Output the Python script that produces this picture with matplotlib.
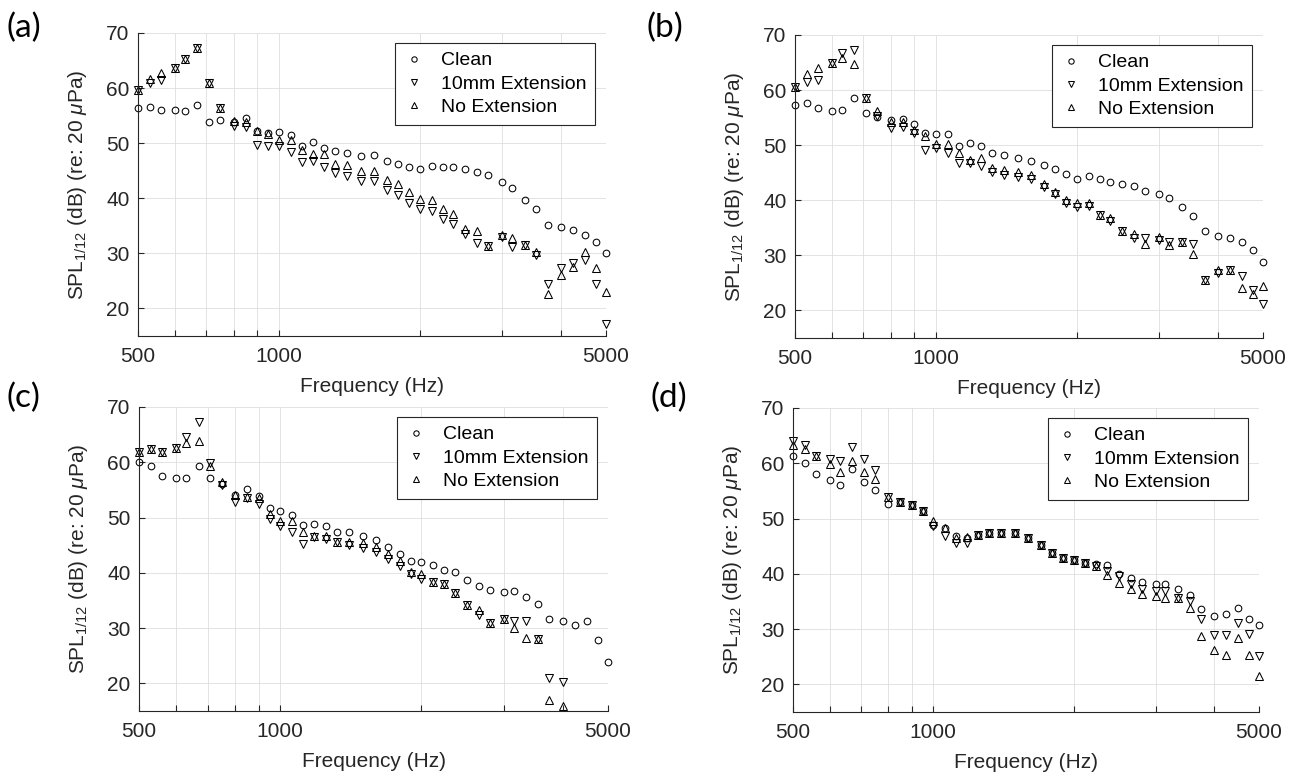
import matplotlib
matplotlib.use('Agg')
import matplotlib.pyplot as plt
import numpy as np
from matplotlib.ticker import FixedLocator, NullFormatter

plt.rcParams['font.family'] = ['Liberation Sans', 'DejaVu Sans']
plt.rcParams['mathtext.fontset'] = 'custom'
plt.rcParams['mathtext.rm'] = 'Liberation Sans'
plt.rcParams['mathtext.it'] = 'Liberation Sans:italic'

nan = np.nan

# 1/12 octave band centre frequencies (Hz)
freq = [500, 530, 560, 600, 630, 670, 710, 750, 800, 850,
        900, 950, 1000, 1060, 1120, 1180, 1250, 1320, 1400, 1500,
        1600, 1700, 1800, 1900, 2000, 2120, 2240, 2360, 2500, 2650,
        2800, 3000, 3150, 3350, 3550, 3750, 4000, 4250, 4500, 4750, 5000]

# panel (a)
clean_a = [56.3, 56.6, 56.0, 56.0, 55.8, 57.0, 53.9, 54.2, 53.8, 54.5,
           52.3, 51.9, 52.0, 51.4, 49.5, 50.2, 49.1, 48.5, 48.2, 47.6,
           47.8, 46.7, 46.3, 45.7, 45.4, 45.9, 45.7, 45.7, 45.4, 44.8,
           44.2, 42.9, 41.8, 39.6, 38.0, 35.2, 34.8, 34.2, 33.4, 32.0, 30.1]
ext10_a = [59.6, 61.0, 61.5, 63.7, 65.3, 67.3, 60.9, 56.3, 53.1, 53.0,
           49.7, 49.5, 49.5, 48.4, 46.6, 46.8, 45.7, 44.6, 44.0, 43.1,
           43.1, 41.5, 40.6, 39.2, 38.1, 37.7, 36.2, 35.4, 33.6, 31.8,
           31.4, 32.9, 31.2, 31.5, 29.7, 24.5, 27.3, 28.3, 28.8, 24.4, 17.2]
noext_a = [59.6, 61.6, 62.7, 63.7, 65.3, 67.3, 60.9, 56.3, 54.0, 53.9,
           52.3, 51.6, 50.5, 50.5, 48.8, 48.1, 48.1, 46.3, 46.0, 45.0,
           45.0, 43.4, 42.6, 41.2, 39.8, 39.6, 38.1, 37.2, 34.5, 34.0,
           31.4, 33.3, 32.7, 31.5, 30.2, 22.7, 26.0, 27.6, 30.3, 27.3, 23.0]

# panel (b)
clean_b = [57.3, 57.7, 56.7, 56.2, 56.4, 58.5, 55.9, 55.2, 54.5, 54.8,
           53.8, 52.3, 52.0, 52.0, 49.9, 50.4, 49.8, 48.6, 48.2, 47.6,
           47.1, 46.4, 45.6, 44.8, 43.8, 44.4, 43.8, 43.3, 42.9, 42.6,
           41.7, 41.2, 40.5, 38.8, 37.1, 34.4, 33.5, 33.2, 32.5, 30.9, 28.8]
ext10_b = [60.6, 61.5, 61.9, 65.0, 66.7, 67.3, 58.5, 55.3, 53.2, 53.3,
           52.3, 49.2, 49.4, 48.5, 46.7, 46.8, 46.2, 45.2, 44.5, 44.2,
           43.8, 42.4, 41.1, 39.5, 38.7, 38.9, 37.4, 36.2, 34.4, 33.2,
           33.2, 32.7, 32.5, 32.4, 32.1, 25.6, 26.8, 27.3, 26.2, 23.8, 21.2]
noext_b = [60.6, 63.0, 64.1, 65.0, 65.9, 64.7, 58.5, 56.2, 54.2, 54.2,
           52.7, 51.6, 50.2, 50.3, 48.6, 47.4, 47.7, 45.8, 45.5, 45.2,
           44.5, 42.9, 41.5, 40.0, 39.5, 39.5, 37.4, 36.7, 34.4, 33.9,
           32.0, 33.3, 31.9, 32.4, 30.3, 25.6, 27.3, 27.3, 24.1, 22.9, 24.4]

# panel (c)
clean_c = [60.0, 59.4, 57.6, 57.2, 57.2, 59.4, 57.2, 56.0, 54.0, 55.1,
           53.9, 51.8, 51.1, 50.5, 48.7, 48.8, 48.5, 47.3, 47.3, 46.7,
           45.9, 44.6, 43.4, 42.2, 41.9, 41.5, 40.6, 40.1, 38.7, 37.6,
           36.9, 36.6, 36.8, 35.6, 34.3, 31.7, 31.3, 30.6, 31.2, 27.8, 23.9]
ext10_c = [61.8, 62.4, 61.8, 62.6, 64.5, 67.3, 59.9, 55.8, 52.8, 53.6,
           52.4, 49.7, 48.5, 47.4, 45.3, 46.4, 46.1, 45.5, 45.0, 44.4,
           43.7, 42.5, 41.3, 39.8, 38.9, 38.3, 37.9, 36.4, 34.2, 32.3,
           30.9, 31.7, 31.3, 31.2, 28.1, 20.9, 20.3, nan, nan, nan, nan]
noext_c = [61.8, 62.4, 61.8, 62.6, 63.5, 63.8, 59.3, 56.4, 54.0, 53.8,
           53.6, 50.6, 49.4, 49.4, 47.3, 46.6, 46.7, 45.5, 45.5, 45.4,
           44.6, 43.4, 42.2, 40.2, 39.8, 38.3, 37.9, 36.4, 34.2, 33.2,
           30.9, 31.7, 30.0, 28.2, 28.1, 17.0, 15.9, nan, nan, nan, nan]

# panel (d)
clean_d = [61.4, 60.1, 58.0, 56.9, 56.0, 58.9, 56.7, 55.2, 52.7, 53.0,
           52.5, 51.3, 48.9, 48.3, 46.8, 46.5, 47.0, 47.3, 47.3, 47.3,
           46.4, 45.2, 43.8, 42.9, 42.5, 41.9, 41.7, 41.6, 39.9, 39.2,
           38.5, 38.1, 38.2, 37.3, 36.1, 33.7, 32.3, 32.8, 33.9, 31.9, 30.7]
ext10_d = [64.1, 63.3, 61.4, 60.7, 60.4, 62.9, 60.8, 58.7, 53.9, 53.0,
           52.5, 51.3, 48.6, 46.8, 45.6, 45.5, 47.0, 47.3, 47.3, 47.3,
           46.4, 45.2, 43.8, 42.9, 42.5, 41.9, 41.4, 40.5, 39.6, 38.1,
           37.2, 36.9, 36.9, 35.7, 35.1, 31.9, 28.9, 29.0, 31.1, 29.2, 25.1]
noext_d = [63.3, 62.6, 61.4, 59.8, 58.4, 60.5, 58.4, 57.2, 53.9, 53.0,
           52.5, 51.3, 49.5, 48.3, 46.5, 46.6, 47.0, 47.3, 47.3, 47.3,
           46.4, 45.2, 43.8, 42.9, 42.5, 41.9, 41.4, 39.7, 38.4, 37.3,
           36.4, 35.9, 35.7, 35.7, 33.9, 28.7, 26.3, 25.4, 28.3, 25.4, 21.6]

series_names = ['Clean', '10mm Extension', 'No Extension']
panel_letters = ['(a)', '(b)', '(c)', '(d)']
panels = [(clean_a, ext10_a, noext_a), (clean_b, ext10_b, noext_b),
          (clean_c, ext10_c, noext_c), (clean_d, ext10_d, noext_d)]

W, H = 1298, 780
# axes boxes in pixels: left, top, right, bottom
boxes = [(138, 33, 606, 336), (795, 35, 1263, 338),
         (139, 407, 608, 711), (793, 408, 1259, 712)]
letter_pos = [(6, 28), (646, 28), (6, 398), (651, 398)]

dark = '#262626'
fig = plt.figure(figsize=(W / 100, H / 100), dpi=100)

for i, (box, data) in enumerate(zip(boxes, panels)):
    l, t, r, b = box
    ax = fig.add_axes([l / W, 1 - b / H, (r - l) / W, (b - t) / H])
    clean, ext10, noext = data
    kw = dict(ls='none', mfc='none', mec='k', mew=0.75, clip_on=False)
    ax.plot(freq, clean, marker='o', ms=4.8, label=series_names[0], **kw)
    ax.plot(freq, ext10, marker='v', ms=5.6, label=series_names[1], **kw)
    ax.plot(freq, noext, marker='^', ms=5.6, label=series_names[2], **kw)

    ax.set_xscale('log')
    ax.set_xlim(500, 5000)
    ax.set_ylim(15, 70)
    ax.xaxis.set_major_locator(FixedLocator([500, 1000, 5000]))
    ax.set_xticklabels(['500', '1000', '5000'])
    ax.xaxis.set_minor_locator(FixedLocator([600, 700, 800, 900, 2000, 3000, 4000]))
    ax.xaxis.set_minor_formatter(NullFormatter())
    ax.set_yticks([20, 30, 40, 50, 60, 70])

    ax.grid(True, which='both', axis='x', color='#dedede', lw=0.6)
    ax.grid(True, which='major', axis='y', color='#dedede', lw=0.6)
    ax.set_axisbelow(True)

    for s in ['top', 'right']:
        ax.spines[s].set_visible(False)
    for s in ['left', 'bottom']:
        ax.spines[s].set_color(dark)
        ax.spines[s].set_linewidth(0.8)
    ax.tick_params(which='both', direction='in', length=4.5, width=0.8,
                   colors=dark, labelsize=15, top=False, right=False)
    ax.tick_params(axis='x', pad=8)
    ax.tick_params(axis='y', pad=6)

    ax.set_xlabel('Frequency (Hz)', fontsize=15, color=dark)
    ax.xaxis.set_label_coords(0.5, -0.135)
    ax.set_ylabel(r'SPL$_{1/12}$ (dB) (re: 20 $\mu$Pa)', fontsize=15, color=dark)
    ax.yaxis.set_label_coords(-0.105, 0.5)

    leg = ax.legend(loc='upper right', bbox_to_anchor=(1 - 11 / (r - l), 1 - 10 / (b - t)),
                    borderaxespad=0, fancybox=False, framealpha=1, edgecolor=dark,
                    fontsize=14, numpoints=1, markerscale=0.8, handlelength=1.0,
                    handletextpad=0.9, labelspacing=0.3, borderpad=0.45)
    leg.get_frame().set_linewidth(0.8)
    for txt in leg.get_texts():
        txt.set_color('k')

    lx, ly = letter_pos[i]
    fig.text(lx / W, 1 - ly / H, panel_letters[i], fontsize=24, family='Lato',
             va='center', ha='left', color='k')

fig.savefig('out.png', dpi=100)
